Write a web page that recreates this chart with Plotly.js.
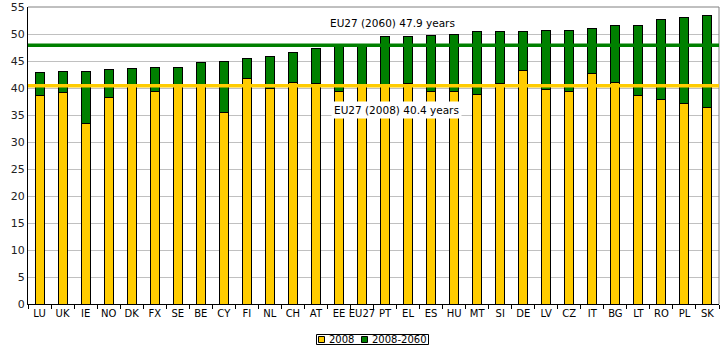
<!DOCTYPE html>
<html>
<head>
<meta charset="utf-8">
<script src="https://cdn.plot.ly/plotly-3.0.1.min.js"></script>
<style>html,body{margin:0;padding:0;background:#fff;}#chart{width:728px;height:351px;}</style>
</head>
<body>
<div id="chart"></div>
<script>
const countries = ["LU","UK","IE","NO","DK","FX","SE","BE","CY","FI","NL","CH","AT","EE","EU27","PT","EL","ES","HU","MT","SI","DE","LV","CZ","IT","BG","LT","RO","PL","SK"];
const age2008 = [38.6,39.2,33.4,38.3,40.6,39.4,40.7,40.7,35.5,41.7,40.0,41.0,40.9,39.3,40.4,40.2,40.9,39.3,39.4,38.8,40.9,43.3,39.8,39.3,42.6,41.1,38.7,37.8,37.2,36.3];
const change2008to2060 = [4.2,3.8,9.7,5.1,3.0,4.4,3.1,4.1,9.5,3.8,5.9,5.5,6.4,8.6,7.5,9.4,8.7,10.5,10.6,11.6,9.6,7.2,10.9,11.4,8.5,10.4,12.8,14.8,15.9,17.2];
const seriesNames = ["2008","2008-2060"];
const seriesColors = ["#FFCC00","#008000"];
const eu27_2060 = 47.9;
const eu27_2008 = 40.4;
const yTicks = [0,5,10,15,20,25,30,35,40,45,50,55];

const FONT = "DejaVu Sans, Verdana, sans-serif";
const traces = [
  {type:"bar", name:seriesNames[0], x:countries, y:age2008,
   marker:{color:seriesColors[0], line:{color:"#000", width:1}}, hoverinfo:"y"},
  {type:"bar", name:seriesNames[1], x:countries, y:change2008to2060,
   marker:{color:seriesColors[1], line:{color:"#000", width:1}}, hoverinfo:"y"}
];

// plot-area geometry (px) for converting the custom legend position
const W = 728, H = 351, ML = 28, MR = 9, MT = 7, MB = 47;
const PW = W - ML - MR, PH = H - MT - MB;
const px = v => (v - ML) / PW;
const py = v => (H - MB - v) / PH;

const legendShapes = [
  {type:"rect", xref:"paper", yref:"paper", x0:px(316.5), x1:px(428.5), y0:py(344.5), y1:py(334.5), line:{color:"#000", width:1}, fillcolor:"#fff"},
  {type:"rect", xref:"paper", yref:"paper", x0:px(318.5), x1:px(324.5), y0:py(342.5), y1:py(336.5), line:{color:"#000", width:1}, fillcolor:seriesColors[0]},
  {type:"rect", xref:"paper", yref:"paper", x0:px(361.5), x1:px(367.5), y0:py(342.5), y1:py(336.5), line:{color:"#000", width:1}, fillcolor:seriesColors[1]}
];
const legendAnnots = [
  {xref:"paper", yref:"paper", x:px(326.5), y:py(339.5), xanchor:"left", yanchor:"middle", text:seriesNames[0], showarrow:false, font:{family:FONT, size:10, color:"#000"}},
  {xref:"paper", yref:"paper", x:px(369.5), y:py(339.5), xanchor:"left", yanchor:"middle", text:seriesNames[1], showarrow:false, font:{family:FONT, size:10, color:"#000"}}
];

const layout = {
  width:W, height:H,
  margin:{l:ML, r:MR, t:MT, b:MB},
  barmode:"stack", bargap:0.61,
  paper_bgcolor:"#fff", plot_bgcolor:"#fff",
  font:{family:FONT, size:10, color:"#000"},
  showlegend:false,
  xaxis:{type:"category", showline:true, linecolor:"#000", linewidth:1,
    ticks:"outside", tickson:"boundaries", ticklen:4, tickcolor:"#000", tickangle:0,
    showgrid:false, tickfont:{family:FONT, size:10, color:"#000"}, fixedrange:true},
  yaxis:{range:[0,55], tickvals:yTicks, showline:true, linecolor:"#000", linewidth:1,
    showgrid:true, gridcolor:"#C0C0C0", gridwidth:1, zeroline:false,
    ticks:"", tickfont:{family:FONT, size:11, color:"#222"}, fixedrange:true},
  shapes:[
    {type:"line", xref:"paper", yref:"paper", x0:0, x1:1, y0:1, y1:1, line:{color:"#808080", width:1}},
    {type:"line", xref:"paper", yref:"paper", x0:1, x1:1, y0:0, y1:1, line:{color:"#808080", width:1}},
    {type:"line", xref:"paper", yref:"y", x0:0, x1:1, y0:eu27_2060, y1:eu27_2060, line:{color:"#008000", width:3.5}, layer:"above"},
    {type:"line", xref:"paper", yref:"y", x0:0, x1:1, y0:eu27_2008, y1:eu27_2008, line:{color:"#FFCC00", width:3.5}, layer:"above"}
  ].concat(legendShapes),
  annotations:[
    {xref:"paper", yref:"y", x:px(392), y:52.1, text:"EU27 (2060) " + eu27_2060 + " years", showarrow:false,
     font:{family:FONT, size:10.5, color:"#000"}, bgcolor:"#fff"},
    {xref:"paper", yref:"y", x:px(396), y:35.9, text:"EU27 (2008) " + eu27_2008 + " years", showarrow:false,
     font:{family:FONT, size:10.5, color:"#000"}, bgcolor:"#fff", borderpad:2}
  ].concat(legendAnnots)
};
Plotly.newPlot("chart", traces, layout, {displayModeBar:false, staticPlot:true});
</script>
</body>
</html>
